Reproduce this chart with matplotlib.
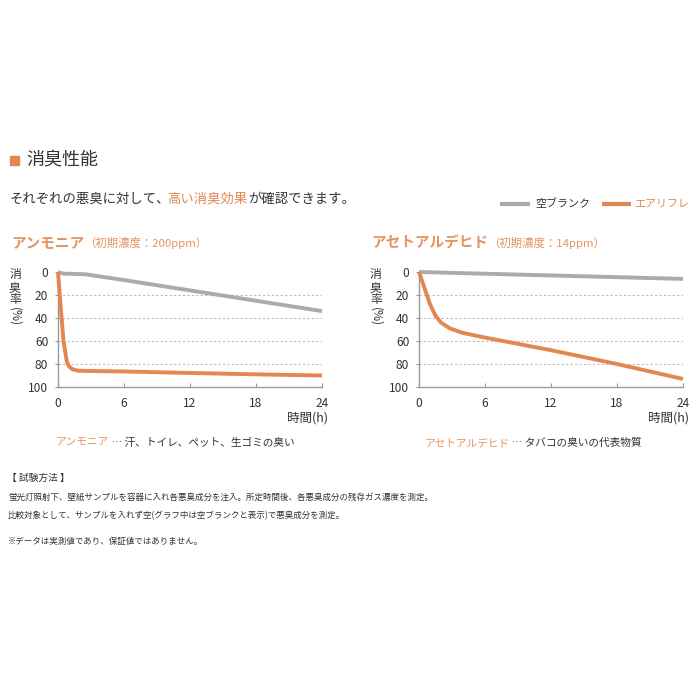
import matplotlib
matplotlib.use("Agg")
import matplotlib.pyplot as plt

plt.rcParams['font.family'] = ['Noto Sans CJK JP', 'DejaVu Sans']

ORANGE = "#E0884F"
ORANGE_T = "#E39460"
GRAY = "#ABABAB"
TXT = "#333333"

# Data (hours, deodorization rate %)
amm_blank_t = [0, 0.5, 1, 2, 2.5, 6, 12, 18, 24]
amm_blank_v = [0, 1.5, 1.5, 1.8, 2, 7, 16, 25, 34]
amm_air_t = [0, 0.2, 0.5, 0.8, 1.0, 1.3, 1.8, 2.5, 6, 12, 18, 24]
amm_air_v = [0, 25, 60, 78, 82, 84.5, 85.8, 86, 86.5, 87.8, 89, 90]

ace_blank_t = [0, 6, 12, 18, 24]
ace_blank_v = [0, 1.5, 3, 4.5, 6]
ace_air_t = [0, 0.5, 1.0, 1.5, 2.0, 2.8, 4, 6, 12, 18, 24]
ace_air_v = [0, 14, 28, 38, 44, 49, 53, 57, 68, 80, 93]

x_ticks = [0, 6, 12, 18, 24]
y_ticks = [0, 20, 40, 60, 80, 100]

W = H = 700
fig = plt.figure(figsize=(7, 7), dpi=100)
fig.patch.set_facecolor("white")

def fx(px):
    return px / W

def fy(py):
    return 1 - py / H

def make_axes(x0, x1, y0, y1, blank_t, blank_v, air_t, air_v):
    ax = fig.add_axes([fx(x0), fy(y1), fx(x1 - x0), (y1 - y0) / H])
    ax.set_xlim(0, 24)
    ax.set_ylim(100, 0)
    for v in [20, 40, 60, 80]:
        ax.axhline(v, color="#BBBBBB", lw=0.8, ls=(0, (2, 2)), zorder=1)
    ax.plot(blank_t, blank_v, color=GRAY, lw=2.8, solid_capstyle="butt",
            solid_joinstyle="round", clip_on=False, zorder=3)
    ax.plot(air_t, air_v, color=ORANGE, lw=2.8, solid_capstyle="butt",
            solid_joinstyle="round", clip_on=False, zorder=4)
    for s in ["top", "right"]:
        ax.spines[s].set_visible(False)
    for s in ["left", "bottom"]:
        ax.spines[s].set_color("#999999")
        ax.spines[s].set_linewidth(1.0)
    ax.set_xticks(x_ticks)
    ax.set_yticks(y_ticks)
    ax.tick_params(axis="x", direction="in", length=3, width=0.8, color="#999999",
                   labelsize=8.6, labelcolor=TXT, pad=7)
    ax.tick_params(axis="y", direction="out", length=2, width=0.8, color="#999999",
                   labelsize=8.6, labelcolor=TXT, pad=5)
    ax.set_facecolor("none")
    return ax

ax1 = make_axes(58, 322, 272, 387, amm_blank_t, amm_blank_v, amm_air_t, amm_air_v)
ax2 = make_axes(419, 683, 272, 387, ace_blank_t, ace_blank_v, ace_air_t, ace_air_v)

def T(px, py, s, **kw):
    kw.setdefault("color", TXT)
    kw.setdefault("va", "center")
    return fig.text(fx(px), fy(py), s, **kw)

fig.canvas.draw()
r = fig.canvas.get_renderer()

# header
fig.patches.append(plt.Rectangle((fx(10), fy(165)), fx(9), 9 / H, transform=fig.transFigure,
                                 color=ORANGE, zorder=5))
T(26, 160, "消臭性能", fontsize=13)

# subtitle with coloured part
t1 = T(10, 199, "それぞれの悪臭に対して、", fontsize=9.6)
bb = t1.get_window_extent(r)
t2 = fig.text(bb.x1 / W - fx(3), fy(199), "高い消臭効果", fontsize=9.6, color=ORANGE, va="center")
bb2 = t2.get_window_extent(r)
fig.text(bb2.x1 / W, fy(199), "が確認できます。", fontsize=9.6, color=TXT, va="center")

# legend
fig.add_artist(plt.Line2D([fx(502), fx(528)], [fy(204), fy(204)], color=GRAY, lw=3))
T(535, 204, "空ブランク", fontsize=7.9)
fig.add_artist(plt.Line2D([fx(604), fx(629)], [fy(204), fy(204)], color=ORANGE, lw=3))
T(634, 204, "エアリフレ", fontsize=7.9, color=ORANGE)

# chart titles
def chart_title(px, name, sub):
    t = fig.text(fx(px), fy(243), name, fontsize=10.5, color=ORANGE_T, va="center",
                 fontweight="bold")
    b = t.get_window_extent(r)
    fig.text(b.x1 / W, fy(243), sub, fontsize=8.2, color=ORANGE_T, va="center")

chart_title(11, "アンモニア", "（初期濃度：200ppm）")
chart_title(371, "アセトアルデヒド", "（初期濃度：14ppm）")

# y labels
for px in [15, 376]:
    T(px, 275, "消", fontsize=8.6, ha="center")
    T(px, 288, "臭", fontsize=8.6, ha="center")
    T(px, 300, "率", fontsize=8.6, ha="center")
    T(px, 317, "(%)", fontsize=8.6, ha="center", rotation=-90)

# x labels
T(328, 418, "時間(h)", fontsize=9, ha="right")
T(689, 418, "時間(h)", fontsize=9, ha="right")

# captions
def caption(cx, name, rest):
    t = fig.text(0, fy(443), name, fontsize=7.7, color=ORANGE_T, va="center")
    u = fig.text(0, fy(443), rest, fontsize=7.7, color=TXT, va="center")
    w1 = t.get_window_extent(r).width
    w2 = u.get_window_extent(r).width
    start = cx - (w1 + w2) / 2
    t.set_x(start / W)
    u.set_x((start + w1) / W)

caption(175, "アンモニア", " … 汗、トイレ、ペット、生ゴミの臭い")
caption(533, "アセトアルデヒド", " … タバコの臭いの代表物質")

# bottom text
T(7, 478, "【 試験方法 】", fontsize=7)
T(8, 497, "蛍光灯照射下、壁紙サンプルを容器に入れ各悪臭成分を注入。所定時間後、各悪臭成分の残存ガス濃度を測定。", fontsize=6.1)
T(8, 516, "比較対象として、サンプルを入れず空(グラフ中は空ブランクと表示)で悪臭成分を測定。", fontsize=6.1)
T(8, 541, "※データは実測値であり、保証値ではありません。", fontsize=6.1)

fig.savefig("out.png", dpi=100, facecolor="white")
